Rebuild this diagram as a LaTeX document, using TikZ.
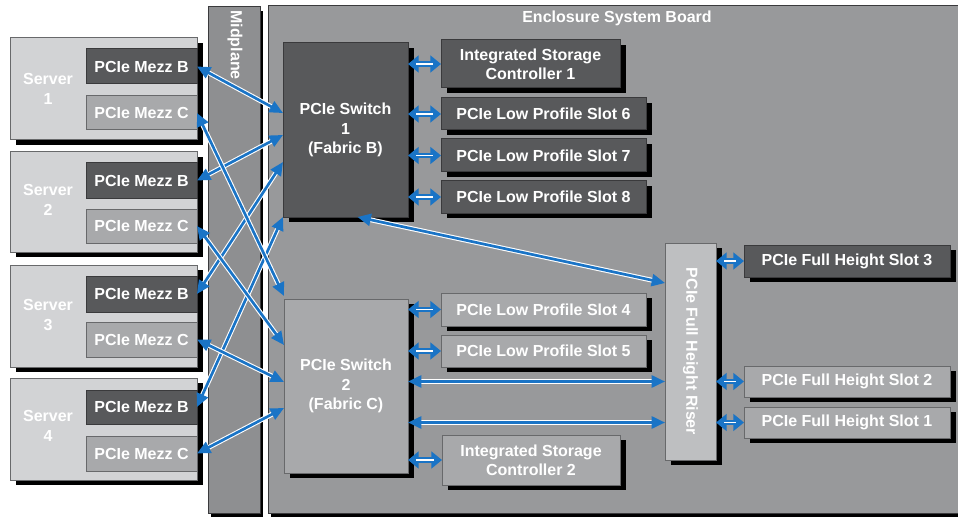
\documentclass[tikz,border=0pt]{standalone}
\usepackage{fontspec}
\setmainfont{Liberation Sans}
\usetikzlibrary{arrows.meta,shadows,calc}
\definecolor{arrowblue}{HTML}{1A74C6}
\definecolor{encfill}{HTML}{98999B}
\definecolor{midfill}{HTML}{8E8F91}
\definecolor{darkfill}{HTML}{58595B}
\definecolor{darkline}{HTML}{3A3A3C}
\definecolor{lightfill}{HTML}{A8A9AB}
\definecolor{lightline}{HTML}{68696B}
\definecolor{riserfill}{HTML}{BEBFC1}
\definecolor{serverfill}{HTML}{D2D3D5}
\begin{document}
\begin{tikzpicture}[x=0.75pt,y=-0.75pt,
  every node/.style={font=\bfseries\fontsize{12}{14.5}\selectfont, text=white, align=center},
  area/.style n args={4}{minimum width={(#3-#1)*0.75pt}, minimum height={(#4-#2)*0.75pt},
    at={({(#1+#3)/2},{(#2+#4)/2})}},
  shad/.style={drop shadow={shadow xshift=4.5pt,shadow yshift=-4pt,opacity=1,fill=black}},
  smallshad/.style={drop shadow={shadow xshift=2.5pt,shadow yshift=-3pt,opacity=1,fill=black}},
  basebox/.style={rectangle, inner sep=0pt, outer sep=0pt, line width=0.75pt},
  darkbox/.style={basebox, shad, fill=darkfill, draw=darkline},
  lightbox/.style={basebox, shad, fill=lightfill, draw=lightline},
  riserbox/.style={basebox, shad, fill=riserfill, draw=lightline},
  serverbox/.style={basebox, shad, fill=serverfill, draw=lightline},
  mezzdark/.style={basebox, fill=darkfill, draw=darkline},
  mezzlight/.style={basebox, fill=lightfill, draw=lightline},
  panel/.style={basebox, smallshad, draw=darkline},
  longarrow/.style={arrowblue, line width=2pt,
    {Triangle[length=10pt,width=9pt]}-{Triangle[length=10pt,width=9pt]},
    preaction={draw=white, line width=3.6pt, -, shorten <=9pt, shorten >=9pt}},
  shortarrow/.style={arrowblue, line width=4pt,
    {Triangle[length=8pt,width=12.5pt]}-{Triangle[length=8pt,width=12.5pt]},
    postaction={draw=white, line width=0.8pt, -, shorten <=6pt, shorten >=6pt}}
]
\useasboundingbox (0,0) rectangle (958,517);

% backgrounds
\node[panel, fill=encfill, area={268}{6}{962}{513}] (enc) {};
\node (enctitle) at (617,18) {Enclosure System Board};
\node[panel, fill=midfill, area={208}{7}{260}{513}] (mp) {};
\node[rotate=-90] (mptext) at (235,45) {Midplane};

% servers
\node[serverbox, area={10}{38}{197}{140}] (s1) {};
\node[serverbox, area={10}{152}{197}{252}] (s2) {};
\node[serverbox, area={10}{265}{197}{367}] (s3) {};
\node[serverbox, area={10}{378}{197}{480}] (s4) {};
\node (s1t) at (48,89) {Server\\1};
\node (s2t) at (48,200) {Server\\2};
\node (s3t) at (48,315) {Server\\3};
\node (s4t) at (48,426) {Server\\4};

\node[mezzdark, area={86}{49}{197}{84}] (mb1) {PCIe Mezz B};
\node[mezzlight, area={86}{96}{197}{130}] (mc1) {PCIe Mezz C};
\node[mezzdark, area={86}{163}{197}{198}] (mb2) {PCIe Mezz B};
\node[mezzlight, area={86}{209}{197}{243}] (mc2) {PCIe Mezz C};
\node[mezzdark, area={86}{276}{197}{312}] (mb3) {PCIe Mezz B};
\node[mezzlight, area={86}{322}{197}{357}] (mc3) {PCIe Mezz C};
\node[mezzdark, area={86}{390}{197}{424}] (mb4) {PCIe Mezz B};
\node[mezzlight, area={86}{436}{197}{471}] (mc4) {PCIe Mezz C};

% switches
\node[darkbox, area={283}{43}{408}{217}] (sw1) {PCIe Switch\\1\\(Fabric B)};
\node[lightbox, area={284}{299}{408}{473}] (sw2) {PCIe Switch\\2\\(Fabric C)};

% slots
\node[darkbox, area={441}{40}{620}{88}] (isc1) {Integrated Storage\\Controller 1};
\node[darkbox, area={441}{98}{646}{130}] (lp6) {PCIe Low Profile Slot 6};
\node[darkbox, area={441}{139}{646}{172}] (lp7) {PCIe Low Profile Slot 7};
\node[darkbox, area={441}{181}{646}{213}] (lp8) {PCIe Low Profile Slot 8};
\node[lightbox, area={441}{293}{646}{326}] (lp4) {PCIe Low Profile Slot 4};
\node[lightbox, area={441}{335}{646}{367}] (lp5) {PCIe Low Profile Slot 5};
\node[lightbox, area={442}{435}{620}{485}] (isc2) {Integrated Storage\\Controller 2};

% riser and full height slots
\node[riserbox, area={665}{243}{716}{460}] (riser) {};
\node[rotate=-90] (risertext) at (riser.center) {PCIe Full Height Riser};
\node[darkbox, area={744}{245}{950}{277}] (fh3) {PCIe Full Height Slot 3};
\node[lightbox, area={744}{366}{950}{397}] (fh2) {PCIe Full Height Slot 2};
\node[lightbox, area={744}{407}{950}{438}] (fh1) {PCIe Full Height Slot 1};

% mezz to switch connectors
\draw[longarrow] (mb1.east) -- ($(sw1.north west)+(0,70)$);
\draw[longarrow] (mb2.east) -- ($(sw1.north west)+(0,92)$);
\draw[longarrow] (mb3.east) -- ($(sw1.north west)+(0,119)$);
\draw[longarrow] (mb4.east) -- (sw1.south west);
\draw[longarrow] (mc1.east) -- ($(sw2.north west)+(0,-3)$);
\draw[longarrow] (mc2.east) -- ($(sw2.north west)+(0,46)$);
\draw[longarrow] (mc3.east) -- ($(sw2.north west)+(0,83)$);
\draw[longarrow] (mc4.east) -- ($(sw2.north west)+(0,109)$);

% switch to riser
\draw[longarrow] ($(sw1.south)+(12,0)$) -- ($(riser.north west)+(0,40)$);
\draw[longarrow] (sw2.east |- fh2.west) -- (riser.west |- fh2.west);
\draw[longarrow] (sw2.east |- fh1.west) -- (riser.west |- fh1.west);

% short connectors
\draw[shortarrow] (sw1.east |- isc1.west) -- (isc1.west);
\draw[shortarrow] (sw1.east |- lp6.west) -- (lp6.west);
\draw[shortarrow] (sw1.east |- lp7.west) -- (lp7.west);
\draw[shortarrow] (sw1.east |- lp8.west) -- (lp8.west);
\draw[shortarrow] (sw2.east |- lp4.west) -- (lp4.west);
\draw[shortarrow] (sw2.east |- lp5.west) -- (lp5.west);
\draw[shortarrow] (sw2.east |- isc2.west) -- (isc2.west);
\draw[shortarrow] (riser.east |- fh3.west) -- (fh3.west);
\draw[shortarrow] (riser.east |- fh2.west) -- (fh2.west);
\draw[shortarrow] (riser.east |- fh1.west) -- (fh1.west);
\end{tikzpicture}
\end{document}
